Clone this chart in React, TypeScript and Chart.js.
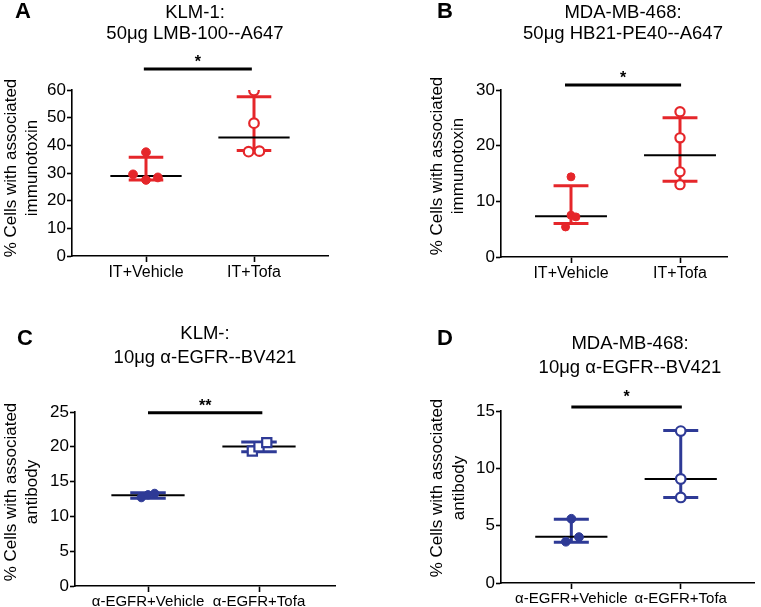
import React, { useEffect, useRef } from 'react';
import { Chart, registerables } from 'chart.js';

Chart.register(...registerables);

const FONT = '"Liberation Sans", Arial, Helvetica, sans-serif';
const RED = '#E5262A';
const BLUE = '#2E3A96';
const BLACK = '#000000';

// ---------- Panel A ----------
const aTitle = ['KLM-1:', '50μg LMB-100--A647'];
const aYTitle = ['% Cells with associated', 'immunotoxin'];
const aCategories = ['IT+Vehicle', 'IT+Tofa'];
const aTicks = [0, 10, 20, 30, 40, 50, 60];
const aVehicle = [37.5, 29.5, 27.5, 28.4];
const aVehicleJitter = [0, -0.12, 0, 0.11];
const aTofa = [59.8, 48.0, 37.7, 37.9];
const aTofaJitter = [0, 0, -0.05, 0.05];
const aCenter = [28.9, 42.8];
const aUpper = [35.7, 57.6];
const aLower = [27.5, 38.1];
const aSig = { label: '*', y: 67.6, from: 0.98, to: 1.98 };

// ---------- Panel B ----------
const bTitle = ['MDA-MB-468:', '50μg HB21-PE40--A647'];
const bYTitle = ['% Cells with associated', 'immunotoxin'];
const bCategories = ['IT+Vehicle', 'IT+Tofa'];
const bTicks = [0, 10, 20, 30];
const bVehicle = [14.4, 7.5, 7.2, 5.4];
const bVehicleJitter = [0, 0, 0.045, -0.05];
const bTofa = [26.1, 21.4, 15.3, 13.0];
const bTofaJitter = [0, 0, 0, 0];
const bCenter = [7.3, 18.3];
const bUpper = [12.8, 25.0];
const bLower = [6.0, 13.6];
const bSig = { label: '*', y: 30.9, from: 0.945, to: 2.01 };

// ---------- Panel C ----------
const cTitle = ['KLM-:', '10μg α-EGFR--BV421'];
const cYTitle = ['% Cells with associated', 'antibody'];
const cCategories = ['α-EGFR+Vehicle', 'α-EGFR+Tofa'];
const cTicks = [0, 5, 10, 15, 20, 25];
const cVehicle = [12.7, 13.1, 13.3];
const cVehicleJitter = [-0.06, 0, 0.06];
const cTofa = [19.4, 20.0, 20.6];
const cTofaJitter = [-0.06, 0, 0.07];
const cCenter = [13.05, 20.05];
const cUpper = [13.4, 20.7];
const cLower = [12.6, 19.3];
const cSig = { label: '**', y: 24.9, from: 1.0, to: 2.03 };

// ---------- Panel D ----------
const dTitle = ['MDA-MB-468:', '10μg α-EGFR--BV421'];
const dYTitle = ['% Cells with associated', 'antibody'];
const dCategories = ['α-EGFR+Vehicle', 'α-EGFR+Tofa'];
const dTicks = [0, 5, 10, 15];
const dVehicle = [5.6, 4.0, 3.6];
const dVehicleJitter = [0, 0.07, -0.05];
const dTofa = [13.25, 9.07, 7.46];
const dTofaJitter = [0, 0, 0];
const dCenter = [4.04, 9.07];
const dUpper = [5.55, 13.3];
const dLower = [3.55, 7.46];
const dSig = { label: '*', y: 15.35, from: 1.0, to: 2.01 };

const panels = [
  { letter: 'A', title: aTitle, yTitle: aYTitle, categories: aCategories, ticks: aTicks, vehicle: aVehicle, vehicleJitter: aVehicleJitter, tofa: aTofa, tofaJitter: aTofaJitter, center: aCenter, upper: aUpper, lower: aLower, sig: aSig, color: RED, tofaMarker: 'circle' },
  { letter: 'B', title: bTitle, yTitle: bYTitle, categories: bCategories, ticks: bTicks, vehicle: bVehicle, vehicleJitter: bVehicleJitter, tofa: bTofa, tofaJitter: bTofaJitter, center: bCenter, upper: bUpper, lower: bLower, sig: bSig, color: RED, tofaMarker: 'circle' },
  { letter: 'C', title: cTitle, yTitle: cYTitle, categories: cCategories, ticks: cTicks, vehicle: cVehicle, vehicleJitter: cVehicleJitter, tofa: cTofa, tofaJitter: cTofaJitter, center: cCenter, upper: cUpper, lower: cLower, sig: cSig, color: BLUE, tofaMarker: 'rect' },
  { letter: 'D', title: dTitle, yTitle: dYTitle, categories: dCategories, ticks: dTicks, vehicle: dVehicle, vehicleJitter: dVehicleJitter, tofa: dTofa, tofaJitter: dTofaJitter, center: dCenter, upper: dUpper, lower: dLower, sig: dSig, color: BLUE, tofaMarker: 'circle' },
];

// Layout (canvas placement and plot-area geometry, in pixels)
const layouts = [
  { x: 0, y: 0, w: 380, h: 300, area: { l: 72, r: 328, t: 90, b: 256 }, cats: [146, 254], letter: [15, 18], titleX: 195, titleY: [18, 39], yTitleX: [16, 37], yTitleY: 168, catFont: 16, dot: 4.4, open: 4.8, sigGap: 2 },
  { x: 380, y: 0, w: 381, h: 300, area: { l: 121, r: 347, t: 90, b: 257 }, cats: [191, 300], letter: [57, 18], titleX: 243, titleY: [18, 39], yTitleX: [62, 83], yTitleY: 166, catFont: 16, dot: 4.0, open: 4.6, sigGap: 2 },
  { x: 0, y: 300, w: 380, h: 307, area: { l: 75, r: 335, t: 112, b: 286 }, cats: [148, 259], letter: [17, 45], titleX: 205, titleY: [39, 63], yTitleX: [16, 37], yTitleY: 192, catFont: 15, dot: 4.2, open: 6.5, sigGap: 2 },
  { x: 380, y: 300, w: 381, h: 307, area: { l: 121, r: 380, t: 111, b: 283 }, cats: [193, 305], letter: [57, 45], titleX: 250, titleY: [49, 73], yTitleX: [62, 84], yTitleY: 188, catFont: 15, dot: 4.4, open: 4.8, sigGap: 5 },
];

const Y_AXIS_W = 50;
const MEAN_HALF = 0.33;
const CAP_HALF = 0.16;

function buildConfig(p: any, L: any) {
  const unit = L.cats[1] - L.cats[0];
  const xMin = 1 - (L.cats[0] - L.area.l) / unit;
  const xMax = 2 + (L.area.r - L.cats[1]) / unit;
  const xAxisH = L.h - L.area.b;

  const line = (pts: { x: number; y: number }[], color: string, width: number, extra: any = {}) => ({
    type: 'line',
    data: pts,
    showLine: true,
    borderColor: color,
    backgroundColor: color,
    borderWidth: width,
    pointRadius: 0,
    borderCapStyle: 'butt',
    ...extra,
  });

  const datasets: any[] = [];
  // points (drawn on top)
  datasets.push({
    type: 'scatter',
    data: p.vehicle.map((y: number, i: number) => ({ x: 1 + p.vehicleJitter[i], y })),
    showLine: false,
    pointStyle: 'circle',
    pointRadius: L.dot,
    backgroundColor: p.color,
    borderColor: p.color,
    borderWidth: 1,
  });
  datasets.push({
    type: 'scatter',
    data: p.tofa.map((y: number, i: number) => ({ x: 2 + p.tofaJitter[i], y })),
    showLine: false,
    pointStyle: p.tofaMarker,
    pointRadius: L.open,
    backgroundColor: '#ffffff',
    borderColor: p.color,
    borderWidth: 2.2,
  });
  // center lines
  [0, 1].forEach((i) => {
    datasets.push(line([{ x: i + 1 - MEAN_HALF, y: p.center[i] }, { x: i + 1 + MEAN_HALF, y: p.center[i] }], BLACK, 2));
  });
  // error bars
  [0, 1].forEach((i) => {
    const cx = i + 1;
    datasets.push(line([{ x: cx, y: p.lower[i] }, { x: cx, y: p.upper[i] }], p.color, 3));
    datasets.push(line([{ x: cx - CAP_HALF, y: p.upper[i] }, { x: cx + CAP_HALF, y: p.upper[i] }], p.color, 3));
    datasets.push(line([{ x: cx - CAP_HALF, y: p.lower[i] }, { x: cx + CAP_HALF, y: p.lower[i] }], p.color, 3));
  });
  // significance bar
  datasets.push(line([{ x: p.sig.from, y: p.sig.y }, { x: p.sig.to, y: p.sig.y }], BLACK, 3, { clip: false }));

  const textPlugin = {
    id: 'panelText' + p.letter,
    afterDraw(chart: any) {
      const ctx = chart.ctx;
      ctx.save();
      ctx.fillStyle = BLACK;
      ctx.textBaseline = 'alphabetic';
      // panel letter
      ctx.font = `bold 22px ${FONT}`;
      ctx.textAlign = 'left';
      ctx.fillText(p.letter, L.letter[0], L.letter[1]);
      // title
      ctx.font = `18.5px ${FONT}`;
      ctx.textAlign = 'center';
      p.title.forEach((t: string, i: number) => ctx.fillText(t, L.titleX, L.titleY[i]));
      // y-axis title
      ctx.font = `17px ${FONT}`;
      p.yTitle.forEach((t: string, i: number) => {
        ctx.save();
        ctx.translate(L.yTitleX[i], L.yTitleY);
        ctx.rotate(-Math.PI / 2);
        ctx.fillText(t, 0, 0);
        ctx.restore();
      });
      // significance label
      const xs = chart.scales.x;
      const ys = chart.scales.y;
      ctx.font = `bold 16px ${FONT}`;
      ctx.fillText(p.sig.label, xs.getPixelForValue((p.sig.from + p.sig.to) / 2), ys.getPixelForValue(p.sig.y) - L.sigGap);
      ctx.restore();
    },
  };

  return {
    type: 'scatter',
    data: { datasets },
    options: {
      responsive: false,
      devicePixelRatio: 1,
      animation: false,
      events: [],
      layout: {
        padding: {
          left: L.area.l - Y_AXIS_W,
          right: L.w - L.area.r,
          top: L.area.t,
          bottom: 0,
        },
      },
      plugins: { legend: { display: false }, tooltip: { enabled: false }, title: { display: false } },
      scales: {
        x: {
          type: 'linear',
          min: xMin,
          max: xMax,
          afterBuildTicks: (s: any) => {
            s.ticks = p.categories.map((_: string, i: number) => ({ value: i + 1 }));
          },
          afterFit: (s: any) => {
            s.height = xAxisH;
          },
          ticks: {
            autoSkip: false,
            maxRotation: 0,
            minRotation: 0,
            padding: 1,
            color: BLACK,
            font: { family: FONT, size: L.catFont },
            callback: (v: number) => p.categories[Math.round(v) - 1] ?? '',
          },
          grid: { display: true, drawOnChartArea: false, drawTicks: true, tickLength: 6, tickWidth: 1.6, color: BLACK },
          border: { display: true, color: BLACK, width: 1.6 },
        },
        y: {
          type: 'linear',
          min: p.ticks[0],
          max: p.ticks[p.ticks.length - 1],
          afterBuildTicks: (s: any) => {
            s.ticks = p.ticks.map((v: number) => ({ value: v }));
          },
          afterFit: (s: any) => {
            s.width = Y_AXIS_W;
          },
          ticks: {
            padding: 1,
            color: BLACK,
            font: { family: FONT, size: 17 },
          },
          grid: { display: true, drawOnChartArea: false, drawTicks: true, tickLength: 5, tickWidth: 1.6, color: BLACK },
          border: { display: true, color: BLACK, width: 1.6 },
        },
      },
    },
    plugins: [textPlugin],
  };
}

function PanelChart({ p, L }: { p: any; L: any }) {
  const ref = useRef<HTMLCanvasElement | null>(null);
  useEffect(() => {
    if (!ref.current) return;
    const chart = new Chart(ref.current, buildConfig(p, L) as any);
    return () => chart.destroy();
  }, [p, L]);
  return (
    <canvas
      ref={ref}
      width={L.w}
      height={L.h}
      style={{ position: 'absolute', left: L.x, top: L.y, width: L.w, height: L.h }}
    />
  );
}

export default function App() {
  return (
    <div style={{ position: 'absolute', left: 0, top: 0, width: 761, height: 607, background: '#ffffff', overflow: 'hidden' }}>
      {panels.map((p, i) => (
        <PanelChart key={p.letter} p={p} L={layouts[i]} />
      ))}
    </div>
  );
}
